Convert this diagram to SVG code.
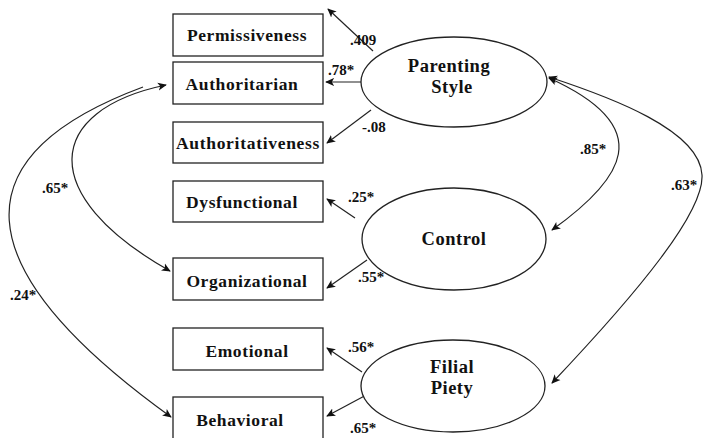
<svg xmlns="http://www.w3.org/2000/svg" width="704" height="438" viewBox="0 0 704 438">
<defs>
<marker id="ah" viewBox="0 0 10 10" refX="9" refY="5" markerWidth="9" markerHeight="9" markerUnits="userSpaceOnUse" orient="auto-start-reverse">
<path d="M0,0.5 L10,5 L0,9.5 L2.5,5 Z" fill="#111"/>
</marker>
<style>
.box{fill:#fff;stroke:#222;stroke-width:1.3}
.ell{fill:#fff;stroke:#222;stroke-width:1.3}
.t{font-family:"Liberation Serif","Times New Roman",serif;font-weight:bold;font-size:17.5px;fill:#111;text-anchor:middle;letter-spacing:0.6px}
.lt{font-family:"Liberation Serif","Times New Roman",serif;font-weight:bold;font-size:18.5px;fill:#111;text-anchor:middle;letter-spacing:0.5px}
.lb{font-family:"Liberation Serif","Times New Roman",serif;font-weight:bold;font-size:15px;fill:#111}
.c{fill:none;stroke:#222;stroke-width:1.2}
</style>
</defs>
<rect width="704" height="438" fill="#fff"/>

<g id="connectors">
<line class="c" x1="373" y1="51" x2="328" y2="9" marker-end="url(#ah)"/>
<line class="c" x1="361" y1="82" x2="326" y2="82" marker-end="url(#ah)"/>
<line class="c" x1="371" y1="110" x2="327" y2="143" marker-end="url(#ah)"/>
<line class="c" x1="355" y1="218" x2="327" y2="199" marker-end="url(#ah)"/>
<line class="c" x1="367" y1="260" x2="327" y2="288" marker-end="url(#ah)"/>
<line class="c" x1="362" y1="372" x2="327" y2="348" marker-end="url(#ah)"/>
<line class="c" x1="370" y1="393" x2="327" y2="416" marker-end="url(#ah)"/>
<path class="c" d="M549,78 C660,128 622,180 552,230" marker-start="url(#ah)" marker-end="url(#ah)"/>
<path class="c" d="M549,77 C610,97 700,130 702,175 C704,212 640,290 552,383" marker-start="url(#ah)" marker-end="url(#ah)"/>
<path class="c" d="M166,85 C45,110 35,195 170,271" marker-start="url(#ah)" marker-end="url(#ah)"/>
<path class="c" d="M143,87 C-40,155 -40,265 171,417" marker-end="url(#ah)"/>
</g>

<g id="permissiveness"><rect class="box" x="173" y="14" width="150" height="42"/><text class="t" x="247" y="41">Permissiveness</text></g>
<g id="authoritarian"><rect class="box" x="173" y="62" width="150" height="42"/><text class="t" x="242" y="90">Authoritarian</text></g>
<g id="authoritativeness"><rect class="box" x="173" y="122" width="150" height="41"/><text class="t" x="248" y="149" style="letter-spacing:0.7px">Authoritativeness</text></g>
<g id="dysfunctional"><rect class="box" x="173" y="181" width="150" height="41"/><text class="t" x="242" y="208">Dysfunctional</text></g>
<g id="organizational"><rect class="box" x="173" y="258" width="150" height="42"/><text class="t" x="247" y="287">Organizational</text></g>
<g id="emotional"><rect class="box" x="173" y="328" width="150" height="42"/><text class="t" x="247" y="357">Emotional</text></g>
<g id="behavioral"><rect class="box" x="173" y="397" width="150" height="46"/><text class="t" x="240" y="426">Behavioral</text></g>

<g id="parenting-style"><ellipse class="ell" cx="454" cy="82" rx="93" ry="45"/><text class="lt" x="449" y="72">Parenting</text><text class="lt" x="452" y="93">Style</text></g>
<g id="control"><ellipse class="ell" cx="454" cy="239" rx="92" ry="51"/><text class="lt" x="454" y="245">Control</text></g>
<g id="filial-piety"><ellipse class="ell" cx="453" cy="386" rx="92" ry="46"/><text class="lt" x="452" y="373">Filial</text><text class="lt" x="452" y="394">Piety</text></g>

<g id="labels">
<text class="lb" x="350" y="45">.409</text>
<text class="lb" x="328" y="75">.78*</text>
<text class="lb" x="362" y="132">-.08</text>
<text class="lb" x="348" y="202">.25*</text>
<text class="lb" x="358" y="282">.55*</text>
<text class="lb" x="348" y="352">.56*</text>
<text class="lb" x="350" y="433">.65*</text>
<text class="lb" x="580" y="154">.85*</text>
<text class="lb" x="671" y="190">.63*</text>
<text class="lb" x="42" y="193">.65*</text>
<text class="lb" x="10" y="300">.24*</text>
</g>
</svg>
